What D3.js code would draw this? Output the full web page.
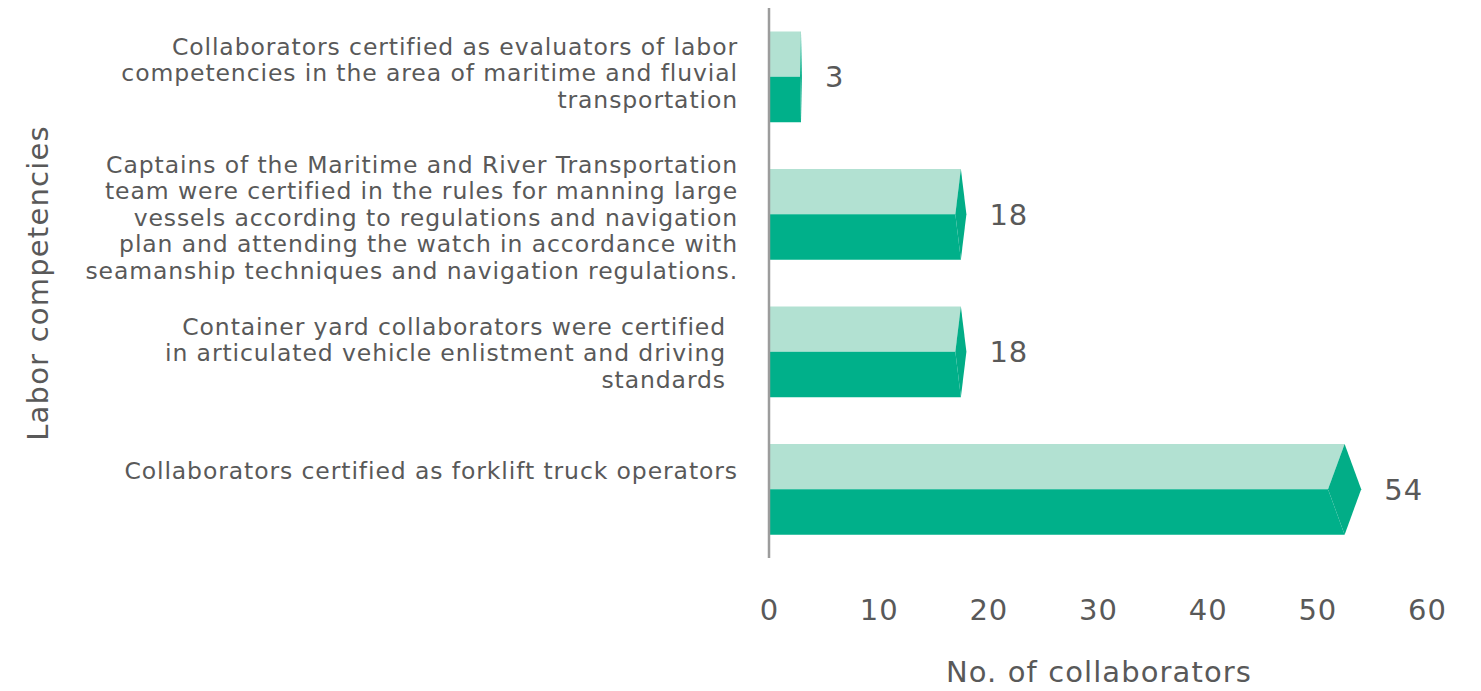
<!DOCTYPE html>
<html>
<head>
<meta charset="utf-8">
<script src="https://cdn.jsdelivr.net/npm/d3@7"></script>
<style>
  html, body { margin: 0; padding: 0; background: #fff; }
  svg { display: block; font-family: "DejaVu Sans", "Open Sans", sans-serif; }
</style>
</head>
<body>
<svg id="chart" width="1481" height="691"></svg>
<script>
// Labor competency certifications, one entry per row of each wrapped label
const categories = [
  ["Collaborators certified as evaluators of labor",
   "competencies in the area of maritime and fluvial",
   "transportation"],
  ["Captains of the Maritime and River Transportation",
   "team were certified in the rules for manning large",
   "vessels according to regulations and navigation",
   "plan and attending the watch in accordance with",
   "seamanship techniques and navigation regulations."],
  ["Container yard collaborators were certified",
   "in articulated vehicle enlistment and driving",
   "standards"],
  ["Collaborators certified as forklift truck operators"]
];
const values = [3, 18, 18, 54];
const xTicks = [0, 10, 20, 30, 40, 50, 60];
const xTitle = "No. of collaborators";
const yTitle = "Labor competencies";

const svg = d3.select("#chart");
const textColor = "#595959";
const lightGreen = "#b2e1d2";
const darkGreen = "#00b08a";
const sideGreen = "#02ad87";

const x = d3.scaleLinear().domain([0, 60]).range([769, 1427]);
const y = d3.scaleBand()
  .domain(d3.range(categories.length))
  .range([8, 558])
  .paddingInner(0.34)
  .paddingOuter(0.17);

// bars: light upper face, dark lower face and a pointed end face
const bars = svg.append("g");
values.forEach((v, i) => {
  const x0 = x(0), xe = x(v);
  const d = (xe - x0) * 0.056, h = d / 2;
  const yt = y(i), yb = y(i) + y.bandwidth(), ym = (yt + yb) / 2;
  const g = bars.append("g");
  g.append("path")
    .attr("d", `M${x0},${yt}L${xe - h},${yt}L${xe - d},${ym}L${x0},${ym}Z`)
    .attr("fill", lightGreen);
  g.append("path")
    .attr("d", `M${x0},${ym}L${xe - d},${ym}L${xe - h},${yb}L${x0},${yb}Z`)
    .attr("fill", darkGreen);
  g.append("path")
    .attr("d", `M${xe - h},${yt}L${xe},${ym}L${xe - h},${yb}L${xe - d},${ym}Z`)
    .attr("fill", sideGreen);
  // value label
  svg.append("text")
    .attr("x", xe + 23)
    .attr("y", ym)
    .attr("dy", "0.36em")
    .attr("font-size", 29)
    .attr("letter-spacing", 1)
    .attr("fill", textColor)
    .text(v);
});

// vertical category axis line
svg.append("line")
  .attr("x1", x(0)).attr("x2", x(0))
  .attr("y1", 8).attr("y2", 558)
  .attr("stroke", "#9c9c9c").attr("stroke-width", 2.5);

// category labels, right aligned next to the axis
const lineH = 26.6;
categories.forEach((lines, i) => {
  const cy = y(i) + y.bandwidth() / 2;
  const nudge = [-4, 3, 1, -19][i];
  const t = svg.append("text")
    .attr("text-anchor", "end")
    .attr("font-size", 23.5)
    .attr("letter-spacing", 0.9)
    .attr("fill", textColor);
  lines.forEach((ln, k) => {
    t.append("tspan")
      .attr("x", i === 2 ? 726 : 738)
      .attr("y", cy + nudge + (k - (lines.length - 1) / 2) * lineH)
      .attr("dy", "0.36em")
      .text(ln);
  });
});

// value axis
const xAxis = svg.append("g")
  .attr("transform", "translate(0,599)")
  .call(d3.axisBottom(x).tickValues(xTicks).tickSize(0).tickPadding(0));
xAxis.select(".domain").remove();
xAxis.selectAll("text")
  .attr("font-size", 29)
  .attr("font-family", "DejaVu Sans, sans-serif")
  .attr("letter-spacing", 1)
  .attr("fill", textColor)
  .attr("dy", "0.71em");

// axis titles
svg.append("text")
  .attr("x", 1099).attr("y", 672)
  .attr("dy", "0.36em")
  .attr("text-anchor", "middle")
  .attr("font-size", 29)
  .attr("letter-spacing", 1.1)
  .attr("fill", textColor)
  .text(xTitle);

svg.append("text")
  .attr("transform", "translate(38,283) rotate(-90)")
  .attr("dy", "0.36em")
  .attr("text-anchor", "middle")
  .attr("font-size", 29)
  .attr("letter-spacing", 1.2)
  .attr("fill", textColor)
  .text(yTitle);
</script>
</body>
</html>
